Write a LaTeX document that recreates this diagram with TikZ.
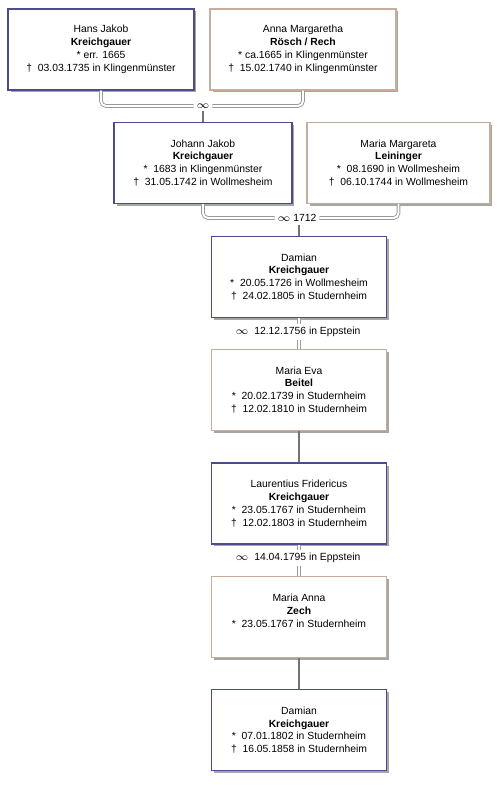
\documentclass[tikz,border=0pt]{standalone}
\usepackage{fontspec}
\setmainfont{Liberation Sans}
\usetikzlibrary{shadows}
\definecolor{manline}{HTML}{4B4B8F}
\definecolor{womanline}{HTML}{C9AD9C}
\newcommand{\marr}{$\infty$}
\newcommand{\born}{*}
\newcommand{\died}{†}
\begin{document}
\begin{tikzpicture}[x=0.02cm, y=-0.02cm,
      font=\fontsize{5.9}{7.3}\selectfont,
      person/.style={draw, fill=white, line width=0.85pt, align=center, inner sep=2pt, minimum height=1.62cm,
        drop shadow={shadow xshift=0.05cm, shadow yshift=-0.05cm, fill=black!35, opacity=1}},
      man/.style={person, draw=manline},
      woman/.style={person, draw=womanline},
      wed/.style={inner sep=1.5pt},
      couple/.style={draw=gray!80, double=white, double distance=1.1pt, line width=0.5pt, rounded corners=0.1cm},
      child/.style={draw=gray!90!black, line width=0.8pt}]
    \useasboundingbox (0,0) rectangle (500,786);
    \node[man, minimum width=3.72cm] (hans) at (101,49.5) {Hans Jakob\\\textbf{Kreichgauer}\\\born\ err. 1665\\\died\ \ 03.03.1735 in Klingenmünster};
    \node[woman, minimum width=3.72cm] (anna) at (303,49.5) {Anna Margaretha\\\textbf{Rösch / Rech}\\\born\ ca.1665 in Klingenmünster\\\died\ \ 15.02.1740 in Klingenmünster};
    \node[man, minimum width=3.56cm] (jakob) at (203,163) {Johann Jakob\\\textbf{Kreichgauer}\\\born\ \ 1683 in Klingenmünster\\\died\ \ 31.05.1742 in Wollmesheim};
    \node[woman, minimum width=3.66cm] (leininger) at (398.5,163) {Maria Margareta\\\textbf{Leininger}\\\born\ \ 08.1690 in Wollmesheim\\\died\ \ 06.10.1744 in Wollmesheim};
    \node[man, minimum width=3.5cm] (damian) at (299,277) {Damian\\\textbf{Kreichgauer}\\\born\ \ 20.05.1726 in Wollmesheim\\\died\ \ 24.02.1805 in Studernheim};
    \node[woman, minimum width=3.5cm] (eva) at (299,390) {Maria Eva\\\textbf{Beitel}\\\born\ \ 20.02.1739 in Studernheim\\\died\ \ 12.02.1810 in Studernheim};
    \node[man, minimum width=3.5cm] (laurentius) at (299,503.5) {Laurentius Fridericus\\\textbf{Kreichgauer}\\\born\ \ 23.05.1767 in Studernheim\\\died\ \ 12.02.1803 in Studernheim};
    \node[woman, minimum width=3.5cm] (zech) at (299,617) {Maria Anna\\\textbf{Zech}\\\born\ \ 23.05.1767 in Studernheim\\\mbox{}};
    \node[man, minimum width=3.5cm] (damianjr) at (299,730) {Damian\\\textbf{Kreichgauer}\\\born\ \ 07.01.1802 in Studernheim\\\died\ \ 16.05.1858 in Studernheim};
    % marriages
    \node[wed] (w1) at (203,106) {\marr};
    \node[wed] (w2) at (297,218) {\marr\ 1712};
    \node[wed] (w3) at (298,332) {\marr\ \ 12.12.1756 in Eppstein};
    \node[wed] (w4) at (298,558) {\marr\ \ 14.04.1795 in Eppstein};
    \draw[couple] (hans.south) |- (w1.west);
    \draw[couple] (anna.south) |- (w1.east);
    \draw[child] (w1.south) -- (jakob.north);
    \draw[couple] (jakob.south) |- (w2.west);
    \draw[couple] (leininger.south) |- (w2.east);
    \draw[child] (damian.north |- w2.south) -- (damian.north);
    \draw[couple] (damian.south) -- (damian.south |- w3.north);
    \draw[couple] (eva.north) -- (eva.north |- w3.south);
    \draw[child] (eva.south) -- (laurentius.north);
    \draw[couple] (laurentius.south) -- (laurentius.south |- w4.north);
    \draw[couple] (zech.north) -- (zech.north |- w4.south);
    \draw[child] (zech.south) -- (damianjr.north);
  \end{tikzpicture}
\end{document}
